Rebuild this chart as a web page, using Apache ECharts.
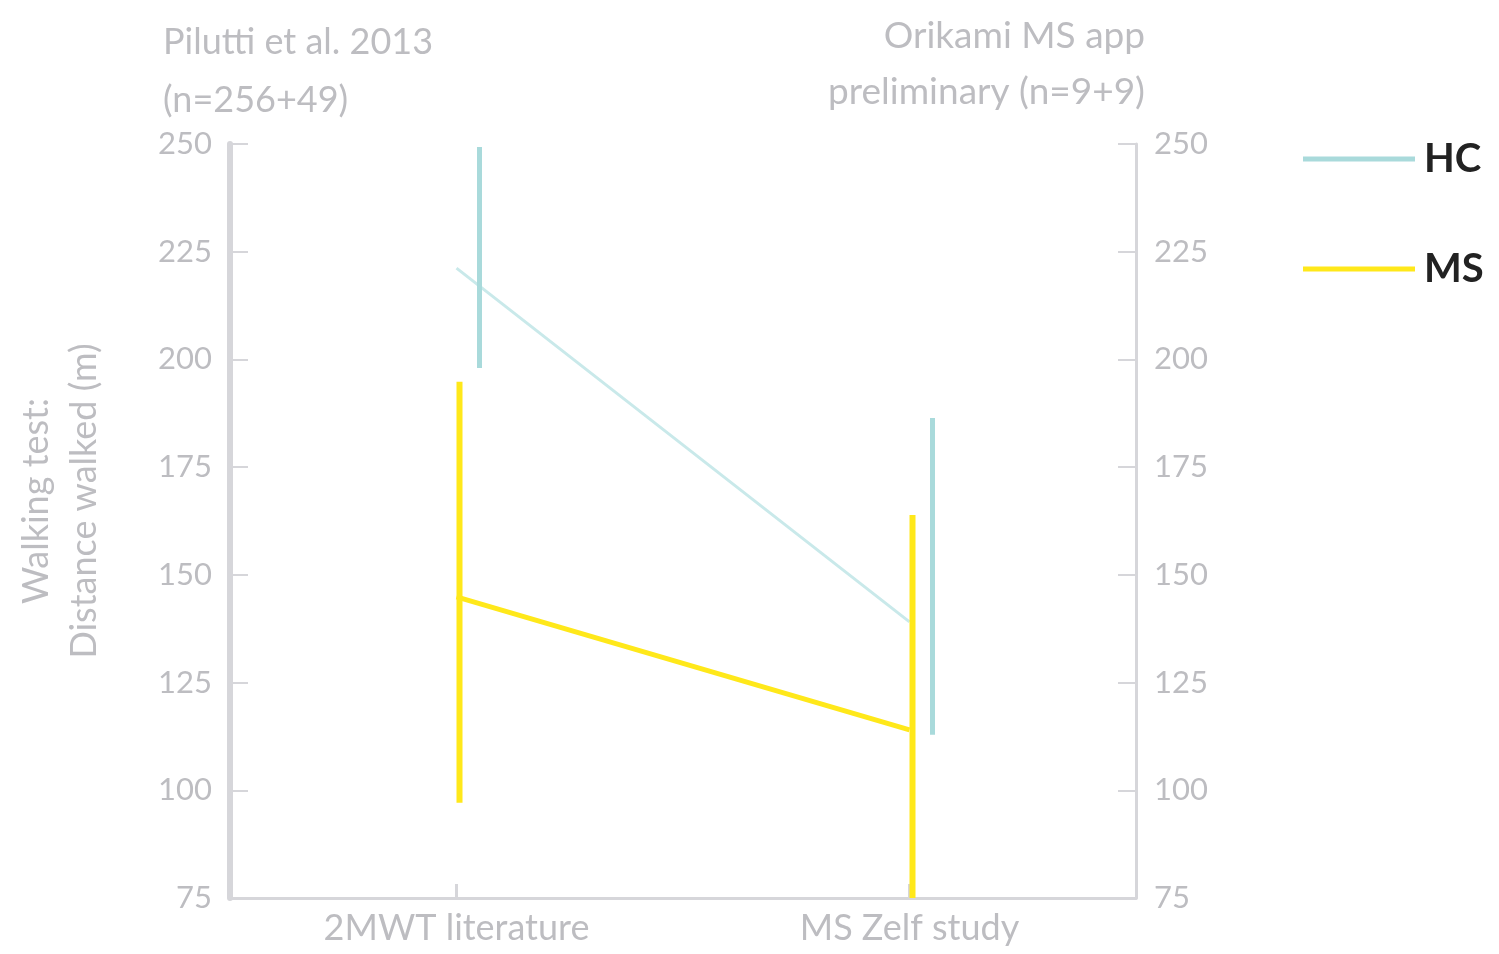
<!DOCTYPE html>
<html>
<head>
<meta charset="utf-8">
<title>Walking test: distance walked</title>
<script src="https://cdn.jsdelivr.net/npm/echarts@6/dist/echarts.min.js"></script>
<style>
  html, body { margin: 0; padding: 0; background: #ffffff; }
  #chart { width: 1499px; height: 954px; }
</style>
</head>
<body>
<div id="chart"></div>
<script>
// Study groups on the x axis
const categories = ['2MWT literature', 'MS Zelf study'];

// Mean distance walked (m) per group
const hcMean = [221.2, 139.1];
const msMean = [144.9, 114.0];

// Spread of each group: [low, high]
const hcRange = [[198.0, 249.3], [112.9, 186.4]];
const msRange = [[97.1, 194.8], [64.0, 163.9]];

// Value axis ticks
const yTicks = [75, 100, 125, 150, 175, 200, 225, 250];

const HC_BAR = '#a9dadb';
const HC_LINE = '#c9e9ea';
const MS_COLOR = '#ffe81a';
const AXIS_GRAY = '#d6d6da';
const TEXT_GRAY = '#bdbdc1';
const FONT = 'Lato, "Open Sans", sans-serif';

const chart = echarts.init(document.getElementById('chart'));

function errorBars(offset, color, width) {
  return function (params, api) {
    const cs = params.coordSys;
    const idx = api.value(0);
    const lo = api.coord([idx, api.value(1)]);
    const hi = api.coord([idx, api.value(2)]);
    const x = lo[0] + offset;
    const yBottom = Math.min(lo[1], cs.y + cs.height);
    const yTop = Math.max(hi[1], cs.y);
    return {
      type: 'line',
      shape: { x1: x, y1: yBottom, x2: x, y2: yTop },
      style: { stroke: color, lineWidth: width }
    };
  };
}

const yAxisCommon = {
  type: 'value',
  min: yTicks[0],
  max: yTicks[yTicks.length - 1],
  interval: 25,
  splitLine: { show: false },
  axisTick: { show: true, inside: true, length: 18, lineStyle: { color: AXIS_GRAY, width: 2 } },
  axisLabel: { color: TEXT_GRAY, fontFamily: FONT, fontSize: 31, margin: 18 }
};

chart.setOption({
  animation: false,
  backgroundColor: '#ffffff',
  grid: { left: 230, right: 363, top: 144, bottom: 56, containLabel: false },
  title: [
    {
      text: 'Pilutti et al. 2013\n(n=256+49)',
      left: 158, top: 8,
      textStyle: { color: TEXT_GRAY, fontFamily: FONT, fontSize: 36, fontWeight: 'normal', lineHeight: 58 }
    },
    {
      text: 'Orikami MS app\npreliminary (n=9+9)',
      left: 1140, top: 3,
      textAlign: 'right',
      textStyle: { color: TEXT_GRAY, fontFamily: FONT, fontSize: 37, fontWeight: 'normal', lineHeight: 56 }
    }
  ],
  legend: {
    data: ['HC', 'MS'],
    orient: 'vertical',
    left: 1298, top: 134,
    itemWidth: 112, itemHeight: 5,
    itemGap: 70,
    icon: 'rect',
    textStyle: { color: '#222222', fontFamily: FONT, fontSize: 40, fontWeight: 'bold', padding: [0, 0, 0, 4] }
  },
  xAxis: {
    type: 'category',
    data: categories,
    boundaryGap: true,
    axisLine: { lineStyle: { color: AXIS_GRAY, width: 3 } },
    axisTick: { show: true, inside: true, alignWithLabel: true, length: 14, lineStyle: { color: AXIS_GRAY, width: 3 } },
    axisLabel: { color: TEXT_GRAY, fontFamily: FONT, fontSize: 36, margin: 12 }
  },
  yAxis: [
    Object.assign({}, yAxisCommon, {
      position: 'left',
      name: 'Walking test:\nDistance walked (m)',
      nameLocation: 'middle',
      nameGap: 122,
      nameRotate: 90,
      nameTextStyle: { color: TEXT_GRAY, fontFamily: FONT, fontSize: 36, lineHeight: 48, padding: [0, 0, 0, 40] },
      axisLine: { show: true, lineStyle: { color: AXIS_GRAY, width: 6 } }
    }),
    Object.assign({}, yAxisCommon, {
      position: 'right',
      axisLine: { show: true, lineStyle: { color: AXIS_GRAY, width: 3 } }
    })
  ],
  series: [
    {
      name: 'HC',
      type: 'line',
      data: hcMean,
      symbol: 'none',
      itemStyle: { color: HC_BAR },
      lineStyle: { color: HC_LINE, width: 3 },
      z: 2
    },
    {
      name: 'MS',
      type: 'line',
      data: msMean,
      symbol: 'none',
      itemStyle: { color: MS_COLOR },
      lineStyle: { color: MS_COLOR, width: 5 },
      z: 3
    },
    {
      name: 'HC range',
      type: 'custom',
      renderItem: errorBars(23, HC_BAR, 5),
      encode: { x: 0, y: [1, 2] },
      data: hcRange.map((r, i) => [i, r[0], r[1]]),
      z: 4
    },
    {
      name: 'MS range',
      type: 'custom',
      renderItem: errorBars(3, MS_COLOR, 6),
      encode: { x: 0, y: [1, 2] },
      data: msRange.map((r, i) => [i, r[0], r[1]]),
      z: 5
    }
  ]
});
</script>
</body>
</html>
